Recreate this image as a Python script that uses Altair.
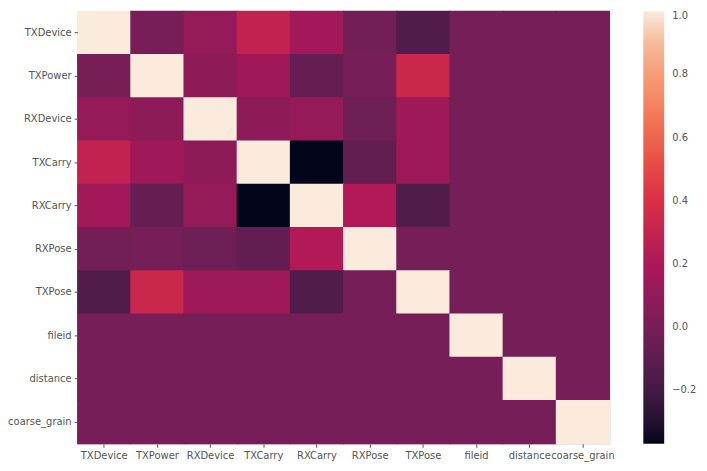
import altair as alt
import pandas as pd

labels = ["TXDevice", "TXPower", "RXDevice", "TXCarry", "RXCarry",
          "RXPose", "TXPose", "fileid", "distance", "coarse_grain"]

row_TXDevice     = [1.00, 0.00, 0.12, 0.29, 0.16, -0.02, -0.15, -0.01, -0.01, -0.01]
row_TXPower      = [0.00, 1.00, 0.08, 0.15, -0.07, -0.01, 0.33, -0.01, -0.01, -0.01]
row_RXDevice     = [0.12, 0.08, 1.00, 0.08, 0.11, -0.04, 0.14, -0.01, -0.01, -0.01]
row_TXCarry      = [0.29, 0.15, 0.08, 1.00, -0.37, -0.08, 0.14, -0.01, -0.01, -0.01]
row_RXCarry      = [0.16, -0.07, 0.11, -0.37, 1.00, 0.22, -0.15, -0.01, -0.01, -0.01]
row_RXPose       = [-0.02, -0.01, -0.04, -0.08, 0.22, 1.00, -0.01, -0.01, -0.01, -0.01]
row_TXPose       = [-0.15, 0.33, 0.14, 0.14, -0.15, -0.01, 1.00, -0.01, -0.01, -0.01]
row_fileid       = [-0.01, -0.01, -0.01, -0.01, -0.01, -0.01, -0.01, 1.00, -0.01, -0.01]
row_distance     = [-0.01, -0.01, -0.01, -0.01, -0.01, -0.01, -0.01, -0.01, 1.00, -0.01]
row_coarse_grain = [-0.01, -0.01, -0.01, -0.01, -0.01, -0.01, -0.01, -0.01, -0.01, 1.00]

rows = [row_TXDevice, row_TXPower, row_RXDevice, row_TXCarry, row_RXCarry,
        row_RXPose, row_TXPose, row_fileid, row_distance, row_coarse_grain]

legend_values = [-0.2, 0.0, 0.2, 0.4, 0.6, 0.8, 1.0]

records = []
for rname, rvals in zip(labels, rows):
    for cname, v in zip(labels, rvals):
        records.append({"row": rname, "col": cname, "value": v})
df = pd.DataFrame(records)

vmin = float(df["value"].min())
vmax = float(df["value"].max())

# rocket colormap stops
rocket = ["#03051a", "#35193e", "#701f57", "#ad1759",
          "#e13342", "#f37651", "#f6b48f", "#faebdd"]
span = vmax - vmin
stop_t = [0.0, 1/12, 3/12, 5/12, 7/12, 9/12, 11/12, 1.0]
stop_domain = [vmin + t * span for t in stop_t]

font = "DejaVu Sans"

chart = alt.Chart(df).mark_rect(strokeWidth=0, width=54.5, height=44.5).encode(
    x=alt.X("col:N", sort=labels, title=None,
            axis=alt.Axis(labelAngle=0, domain=False, grid=False, tickSize=3.5,
                          tickColor="#555555", labelColor="#555555",
                          labelFontSize=10, labelPadding=3, labelFont=font)),
    y=alt.Y("row:N", sort=labels, title=None,
            axis=alt.Axis(domain=False, grid=False, tickSize=3.5,
                          tickColor="#555555", labelColor="#555555",
                          labelFontSize=10, labelPadding=3, labelFont=font)),
    color=alt.Color("value:Q",
                    scale=alt.Scale(domain=stop_domain, range=rocket,
                                    interpolate="rgb"),
                    legend=alt.Legend(title=None, orient="right",
                                      direction="vertical",
                                      gradientLength=435,
                                      gradientThickness=21,
                                      offset=34, padding=0,
                                      values=legend_values,
                                      labelFontSize=10,
                                      labelColor="#555555",
                                      labelFont=font,
                                      labelOffset=8,
                                      labelOverlap=False,
                                      format=".1f")),
    tooltip=["row", "col", "value"],
).properties(
    width=535,
    height=435,
    autosize=alt.AutoSizeParams(type="none"),
    padding={"left": 70, "top": 2, "right": 90, "bottom": 20},
).configure_view(stroke=None).configure_axis(grid=False).configure(background="white")

chart.save("out.html", embed_options={"renderer": "svg", "actions": False})
